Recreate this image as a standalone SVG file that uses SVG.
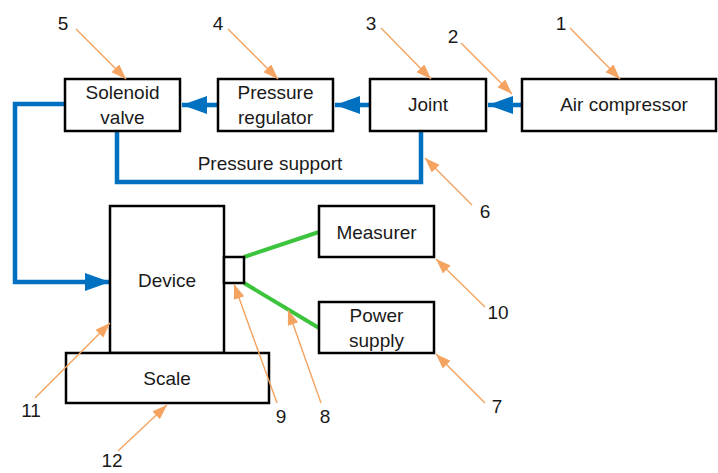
<svg xmlns="http://www.w3.org/2000/svg" width="718" height="473" viewBox="0 0 718 473">
<style>
.box{fill:#fff;stroke:#000;stroke-width:2.5}
.t{font-family:"Liberation Sans",Arial,sans-serif;font-size:19px;fill:#1a1a1a;text-anchor:middle}
.blue{fill:none;stroke:#0070C0;stroke-width:4.5}
.green{fill:none;stroke:#3DC43D;stroke-width:4}
.lead{fill:none;stroke:#F4A460;stroke-width:1.4}
</style>
<defs>
<marker id="ba" markerUnits="userSpaceOnUse" markerWidth="26" markerHeight="20" refX="25" refY="9" orient="auto">
<path d="M0,0 L25,9 L0,18 z" fill="#0070C0"/>
</marker>
<marker id="oa" markerUnits="userSpaceOnUse" markerWidth="16" markerHeight="12" refX="15" refY="5.5" orient="auto">
<path d="M0,0 L15,5.5 L0,11 z" fill="#F4A460"/>
</marker>
</defs>
<rect width="718" height="473" fill="#fff"/>
<g id="connectors">
<path class="blue" d="M522,105 H488" marker-end="url(#ba)"/>
<path class="blue" d="M370,105 H335" marker-end="url(#ba)"/>
<path class="blue" d="M218,105 H182" marker-end="url(#ba)"/>
<path class="blue" d="M65,104 H15 V282 H110" marker-end="url(#ba)"/>
<path class="blue" d="M117,131 V182 H421 V131"/>
<path class="green" d="M244,257 L319,232"/>
<path class="green" d="M244,283 L319,328"/>
</g>
<g id="air-compressor"><rect class="box" x="522" y="79" width="194" height="52"/><text class="t" x="624" y="111">Air compressor</text></g>
<g id="joint"><rect class="box" x="370" y="79" width="116" height="52"/><text class="t" x="428" y="111">Joint</text></g>
<g id="pressure-regulator"><rect class="box" x="218" y="79" width="115" height="52"/><text class="t" x="275.5" y="99">Pressure</text><text class="t" x="275.5" y="124">regulator</text></g>
<g id="solenoid-valve"><rect class="box" x="65" y="79" width="115" height="52"/><text class="t" x="122.5" y="99">Solenoid</text><text class="t" x="122.5" y="124">valve</text></g>
<g id="pressure-support-label"><text class="t" x="270" y="170">Pressure support</text></g>
<g id="device"><rect class="box" x="110" y="206" width="114" height="147"/><text class="t" x="167" y="287">Device</text></g>
<g id="scale"><rect class="box" x="66" y="353" width="203" height="50"/><text class="t" x="167" y="385">Scale</text></g>
<g id="sensor"><rect class="box" x="224" y="257" width="20" height="26"/></g>
<g id="measurer"><rect class="box" x="319" y="206" width="115" height="51"/><text class="t" x="376.5" y="239">Measurer</text></g>
<g id="power-supply"><rect class="box" x="319" y="302" width="115" height="51"/><text class="t" x="376.5" y="322">Power</text><text class="t" x="376.5" y="347">supply</text></g>
<g id="callouts">
<path class="lead" d="M570,28 L620,79" marker-end="url(#oa)"/>
<path class="lead" d="M461,43 L512,94" marker-end="url(#oa)"/>
<path class="lead" d="M381,28 L431,79" marker-end="url(#oa)"/>
<path class="lead" d="M228,29 L278,79" marker-end="url(#oa)"/>
<path class="lead" d="M76,29 L126,79" marker-end="url(#oa)"/>
<path class="lead" d="M472,205 L425,158" marker-end="url(#oa)"/>
<path class="lead" d="M485,307 L436,259" marker-end="url(#oa)"/>
<path class="lead" d="M485,403 L436,354" marker-end="url(#oa)"/>
<path class="lead" d="M321,403 L288,310" marker-end="url(#oa)"/>
<path class="lead" d="M277,403 L234,284" marker-end="url(#oa)"/>
<path class="lead" d="M35,398 L110,323" marker-end="url(#oa)"/>
<path class="lead" d="M118,451 L167,405" marker-end="url(#oa)"/>
<text class="t" x="561" y="30">1</text>
<text class="t" x="453" y="43">2</text>
<text class="t" x="371" y="30">3</text>
<text class="t" x="218" y="30">4</text>
<text class="t" x="63" y="30">5</text>
<text class="t" x="485" y="218">6</text>
<text class="t" x="497" y="413">7</text>
<text class="t" x="325" y="423">8</text>
<text class="t" x="281" y="423">9</text>
<text class="t" x="498" y="319">10</text>
<text class="t" x="31" y="417">11</text>
<text class="t" x="112" y="467">12</text>
</g>
</svg>
